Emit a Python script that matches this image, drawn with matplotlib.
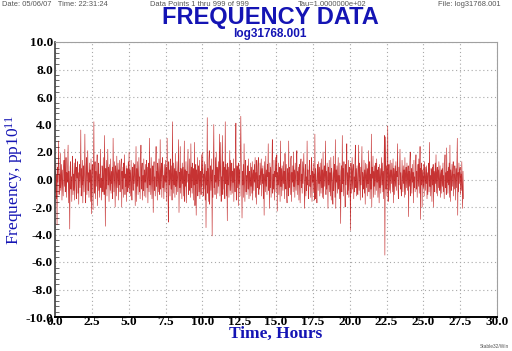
"""Stable32-style frequency data plot for log31768.001."""

import matplotlib

matplotlib.use("Agg")

import matplotlib.pyplot as plt  # noqa: E402
import numpy as np  # noqa: E402
from matplotlib.ticker import MultipleLocator  # noqa: E402

TAU_S = 100.0
X_TICKS = [0.0, 2.5, 5.0, 7.5, 10.0, 12.5, 15.0, 17.5, 20.0, 22.5, 25.0, 27.5, 30.0]
Y_TICKS = [-10.0, -8.0, -6.0, -4.0, -2.0, 0.0, 2.0, 4.0, 6.0, 8.0, 10.0]

# fractional frequency, pp10^11, points 1..999 (estimated from the trace)
FREQ = [
    0.6, -0.9, 1.2, -1.4, 0.3, -3.3, 0.9, -0.2, 1.5, 2.8, -1.1, 0.4, -0.6, 1.9, -0.8, 0.2, 1.1, -1.5, 0.7, -0.3,
    -1.2, 0.8, 1.4, -0.5, 2.2, -0.9, 0.1, 1.6, -1.3, 0.5, -0.2, 1.0, 2.5, -1.7, 0.6, -0.4, -3.6, 0.9, 1.3, -0.7,
    0.2, -1.6, 0.8, 1.7, -1.1, 0.4, -0.8, 1.2, -1.5, 0.6, 1.5, -0.3, -1.4, 0.9, 0.1, 1.3, -1.0, 0.5, -1.8, 0.7,
    1.1, -0.6, 0.3, 3.6, -1.2, 0.8, -0.4, 1.4, -1.7, 0.2, 1.0, -0.9, 0.6, 3.3, -0.5, -1.7, 0.9, 1.6, -1.1, 0.4,
    2.1, -0.8, 0.5, -1.3, 1.2, -0.2, 0.7, -1.6, 1.5, -2.5, 0.3, 1.1, -0.7, -2.2, 0.8, 4.2, -1.0, 0.4, 1.3, -1.4,
    0.6, -0.5, 0.9, 1.8, -1.9, 0.2, 1.2, -0.8, 0.4, -1.3, 0.7, 2.2, -0.6, 0.1, -1.5, 1.0, 0.3, -0.9, 1.6, -0.2,
    -1.1, 3.2, 0.5, -3.4, 0.8, -0.7, 1.4, -1.2, 0.3, 2.2, -0.4, 0.9, -1.6, 1.1, 0.2, -0.8, 1.5, -1.0, 0.6, -0.3,
    0.9, -1.4, 3.0, 0.4, -0.9, 1.3, -0.1, -2.0, 1.0, 0.5, -1.2, 1.7, -0.6, 0.2, 1.2, -1.5, 0.7, -0.4, 1.4, -0.9,
    0.3, 1.1, 1.5, -2.0, 0.6, -0.7, 0.9, -1.3, 1.2, 0.1, 1.8, -1.1, 0.4, -0.5, 1.0, -1.6, 0.8, 0.2, -0.9, 1.3,
    -0.6, 2.0, -1.0, 0.7, 0.3, -1.2, 1.4, -0.4, -1.5, 0.9, 0.2, -0.8, 1.2, -0.3, 0.6, 1.1, -1.9, 0.5, 2.4, -1.6,
    0.8, -0.5, 1.3, -1.1, 0.4, 1.6, -0.9, 0.2, -1.4, 1.0, 2.5, -0.7, 0.6, 1.2, -1.5, 0.3, -0.8, 1.5, -1.2, 0.7,
    -0.2, 1.1, -1.3, 0.5, 1.4, -0.6, 0.9, -1.7, 0.3, 1.2, -0.9, 3.0, -0.4, 0.8, -1.1, 1.6, 0.1, -1.4, 0.6, 1.0,
    -2.4, 0.7, 1.3, -0.8, 0.2, -1.2, 1.0, 2.4, -0.5, 0.6, -1.5, 1.2, 0.4, -0.9, 1.5, -0.3, -1.1, 2.9, -0.7, 0.5,
    1.2, -1.3, 0.8, 1.6, -0.6, 0.3, -1.4, 1.1, 0.2, -0.9, 1.4, -0.2, 0.9, -1.6, 3.0, 0.5, -0.8, -3.1, 1.3, -0.4,
    0.7, -1.2, 1.5, 0.1, -0.7, 1.0, -1.5, 4.2, 0.3, -1.0, 1.2, -0.4, 0.8, -1.3, 1.9, -0.5, 0.6, -1.1, 1.3, 0.2,
    -0.9, 1.1, 2.9, -2.4, 0.5, -0.6, 2.4, -1.0, 0.8, 0.3, -1.4, 1.2, -0.3, 0.9, -1.2, 0.4, 2.8, -1.6, 0.7, -0.5,
    1.3, -1.7, 0.6, -0.2, 1.0, 2.2, -1.1, 0.4, -0.8, 1.5, 0.1, -1.3, 2.6, -0.6, 0.9, -1.0, 1.2, 0.3, -1.5, 0.8,
    -0.4, 2.7, -1.9, 0.5, 1.1, -2.6, 0.7, -0.3, 1.6, -1.2, 0.2, 1.0, -0.9, 1.4, -1.4, 0.6, 0.3, -1.1, 1.8, -0.5,
    0.9, 2.0, -1.2, 0.4, -0.7, 1.3, 0.1, -1.5, 1.1, -3.5, 0.6, -0.4, 4.5, -1.0, 0.8, -1.6, 1.4, 2.1, -1.8, 0.2,
    1.0, -0.8, 0.5, 1.5, -4.1, 0.7, -1.3, 1.2, 4.0, -0.6, 0.3, -1.1, 1.6, -0.2, 2.0, -1.4, 0.9, 0.4, -1.0, 1.3,
    -0.5, 0.8, 3.3, -1.2, 0.6, 2.7, -1.6, 0.2, -1.0, 3.2, -1.1, 0.5, 1.3, -0.7, 0.9, -1.4, 4.2, -0.3, 1.1, -1.2,
    0.7, -3.0, 1.2, -0.4, 0.9, -1.3, 0.3, 2.1, -0.8, 1.4, -1.1, 0.5, 1.2, -1.0, 0.6, -0.2, 1.5, -1.6, 0.8, 0.1,
    -0.9, 1.3, 4.1, -1.5, 0.4, 1.0, -0.6, 0.9, -1.9, 1.2, -0.3, 0.7, -1.2, 1.6, 4.6, 1.4, 0.2, -2.8, 0.6, -0.4,
    1.1, -1.3, 2.6, -0.2, -1.6, 0.8, 1.4, -0.9, 0.3, -1.1, 1.0, 0.4, -0.7, 1.5, -1.4, 0.6, 0.1, -1.2, 1.2, -0.5,
    0.9, -1.0, 1.3, -1.5, 0.4, 0.7, -0.8, 1.1, -0.2, 1.6, -1.3, 0.5, -1.8, 1.4, 0.2, -0.6, 1.0, 1.6, -1.1, 0.3,
    -0.7, 1.2, -0.4, 0.6, 1.5, -1.2, 0.8, -0.3, 1.0, -1.4, 0.4, -2.6, 1.3, 0.1, -0.9, 1.7, -0.5, 0.7, -1.1, 1.1,
    0.2, 2.6, -0.8, 0.5, -2.1, 1.2, -0.6, 0.9, -1.3, 0.3, 1.1, 2.9, -1.0, 0.4, -0.7, 1.4, -1.5, 0.6, 0.2, 1.6,
    -0.9, 0.7, 1.8, -2.3, 0.5, -0.4, 1.2, -1.1, 0.3, 0.9, -1.6, 2.8, -0.5, 0.8, -1.2, 1.0, 0.1, -0.8, 1.3, -0.3,
    0.6, -1.4, 1.9, 0.2, -0.7, 1.1, -1.0, -1.7, 0.8, 0.4, -1.2, 2.8, -0.6, 0.9, 0.3, -1.1, 1.5, 1.7, -1.6, 0.5,
    -0.2, 1.0, -0.9, 2.0, -0.5, 0.7, -1.3, 1.2, 0.1, -0.8, 1.4, 2.1, -1.1, 0.6, -0.4, 0.9, -1.5, 1.1, 0.3, -1.7,
    1.0, 1.5, -0.6, 0.4, -1.0, 1.3, -0.3, 0.8, 1.9, -0.7, -2.1, 0.5, 1.1, -1.2, 0.2, -0.8, 2.8, -0.4, 0.7, -1.4,
    -1.1, 0.9, 1.4, -0.5, 0.3, -1.3, 1.0, 1.6, -1.6, 0.6, -0.2, 1.2, -0.9, 0.4, -1.5, 3.3, -1.4, 0.8, 0.1, -0.6,
    -1.7, 1.1, 0.5, -0.8, 1.3, -0.3, 0.9, -1.2, 1.2, 0.2, -1.0, 1.5, -0.6, 0.7, -1.3, 2.0, -1.4, 0.4, 1.0, -0.5,
    0.3, 2.8, -1.1, 0.6, -0.7, 1.2, 0.1, -2.1, 0.9, -0.4, 1.4, -0.9, 0.5, -1.2, 1.6, -1.5, 0.8, 0.2, -0.6, -1.8,
    1.7, -0.8, 0.4, 1.1, -1.3, 2.9, -2.1, 0.7, -0.2, 1.0, -1.0, 0.5, 1.6, -0.7, 0.3, -1.4, 1.2, -0.5, -3.2, 0.6,
    1.0, -0.9, 3.2, -0.3, 0.8, -1.2, 1.3, 0.2, -0.6, -2.0, 1.1, -0.4, 0.7, 2.6, -1.1, 0.5, -0.8, 1.4, -1.3, 0.3,
    0.9, -0.5, -3.7, 1.2, 0.4, -1.0, 1.6, -0.7, 0.6, 1.1, -1.4, 0.2, -0.9, 1.3, 2.5, -0.6, 0.8, -1.2, 1.0, -0.3,
    -1.1, 0.6, 2.5, -0.8, 1.2, 0.3, -1.5, 0.9, -0.4, 1.0, 2.4, -1.3, 0.5, 0.1, -0.7, 1.4, -1.0, 0.7, -1.8, 1.2,
    0.2, -0.6, 1.1, -1.2, 0.8, -0.3, 2.1, -0.9, 0.5, 1.3, -1.4, 0.4, -0.7, 3.3, -2.0, 0.9, 0.1, 1.7, -1.3, 0.6,
    -0.5, 1.0, -1.1, 0.3, 1.2, -0.8, 1.5, -0.2, 0.7, -1.3, 0.9, 0.4, -1.7, 1.1, -0.6, 0.8, -1.0, 0.5, 1.6, -0.4,
    1.2, -0.9, 0.6, -1.4, 1.3, 3.2, -5.5, 0.9, 3.1, -0.7, 1.0, -1.2, 0.4, 3.9, -1.6, 0.5, 1.1, -0.8, 0.2, 1.4,
    -1.0, 0.7, -0.3, 1.2, 0.1, -0.9, 1.5, -1.7, 0.8, 0.3, -1.1, 1.0, -0.5, 1.3, -0.8, 0.6, 0.2, 2.6, -0.6, -1.4,
    0.9, -0.4, 1.1, 2.2, -0.7, 0.5, -1.0, -1.2, 1.4, 0.2, -0.9, 1.0, -0.3, 0.7, -1.3, 1.6, -1.1, 0.4, 0.9, -0.6,
    1.2, -0.8, 0.3, 1.0, -2.7, 0.6, -0.5, 1.3, 2.0, -1.2, 0.4, 0.8, -1.0, 1.1, -0.2, 0.5, -1.7, 1.4, -0.6, 0.2,
    -0.9, 1.0, 1.8, -0.7, 0.6, -1.3, 0.3, 1.1, -0.5, 1.5, -1.0, 0.4, 2.4, -2.9, 0.8, -0.4, 1.2, -2.0, 0.7, 0.1,
    -0.6, 1.1, -1.2, 1.3, 0.2, -0.8, 0.9, -0.3, 1.0, -1.4, 0.5, -1.1, 0.7, 1.2, -0.9, 2.7, -0.5, 0.3, -1.2, 0.8,
    0.4, -1.6, 0.9, -0.4, 1.1, -2.0, 0.6, 0.2, -0.9, 1.2, -0.3, 1.8, -1.0, 0.5, 0.9, -1.2, 0.7, -0.6, 1.3, -0.1,
    -0.8, 1.0, -1.3, 0.4, 0.7, -1.0, 0.8, -0.5, 1.2, -0.9, 0.3, -1.4, 1.1, 1.8, -0.6, 0.5, -1.1, 2.3, -0.2, 0.6,
    -1.0, 0.9, -0.4, 1.2, -1.3, 2.5, -1.6, 0.7, 0.2, -0.8, 1.1, -0.5, 0.6, 1.3, -1.2, 0.4, -0.7, 1.0, 0.3, -1.5,
    0.8, -0.6, 1.1, 3.0, -2.6, 0.5, -0.9, 1.2, -0.3, 0.7, 0.9, -1.1, 0.4, -0.8, 1.3, -0.2, -2.1, 0.6, -1.4,
]

BLUE = "#1414b4"
SERIF = ["Liberation Serif", "DejaVu Serif"]
SANS = ["Liberation Sans", "DejaVu Sans"]

plt.rcParams["mathtext.default"] = "regular"

freq = np.asarray(FREQ, dtype=float)
hours = np.arange(len(freq)) * TAU_S / 3600.0

fig = plt.figure(figsize=(5.12, 3.51), dpi=100, facecolor="white")
ax = fig.add_axes([55 / 512, 1 - 317 / 351, 442 / 512, 275 / 351])

ax.plot(hours, freq, color="#b80000", linewidth=0.45, alpha=0.8, antialiased=True)

ax.set_xlim(0, 30)
ax.set_ylim(-10, 10)
ax.set_xticks(X_TICKS)
ax.set_yticks(Y_TICKS)
ax.set_xticklabels([f"{v:.1f}" for v in X_TICKS], family=SERIF, fontsize=9.5, fontweight="bold")
ax.set_yticklabels([f"{v:.1f}" for v in Y_TICKS], family=SERIF, fontsize=9.5, fontweight="bold")
ax.yaxis.set_minor_locator(MultipleLocator(0.4))
ax.tick_params(axis="both", which="major", length=0)
ax.tick_params(axis="x", which="major", pad=-1)
ax.tick_params(axis="y", which="major", pad=1.5)
ax.tick_params(axis="y", which="minor", direction="in", length=3, width=0.6, color="#505050")
ax.grid(True, which="major", color="#a8a8a8", linestyle=(0, (1, 2.5)), linewidth=0.8)

for side in ("top", "right"):
    ax.spines[side].set_color("#a0a0a0")
    ax.spines[side].set_linewidth(0.8)
ax.spines["left"].set_color("#404040")
ax.spines["left"].set_linewidth(1.2)
ax.spines["bottom"].set_color("black")
ax.spines["bottom"].set_linewidth(1.4)

ax.set_xlabel("Time, Hours", family=SERIF, fontsize=12.5, fontweight="bold", color=BLUE, labelpad=-1)
ax.set_ylabel("Frequency, pp10$^{11}$", family=SERIF, fontsize=12.5, color=BLUE, labelpad=0)

fig.text(270 / 512, 1 - 24 / 351, "FREQUENCY DATA", family=SANS, fontsize=17, fontweight="bold",
         color=BLUE, ha="center", va="baseline")
fig.text(270 / 512, 1 - 37 / 351, "log31768.001", family=SANS, fontsize=8.5, fontweight="bold",
         color=BLUE, ha="center", va="baseline")

header = dict(family=SANS, fontsize=5.4, color="#555555", va="center")
fig.text(2 / 512, 1 - 4 / 351, "Date: 05/06/07   Time: 22:31:24", ha="left", **header)
fig.text(150 / 512, 1 - 4 / 351, "Data Points 1 thru 999 of 999", ha="left", **header)
fig.text(298 / 512, 1 - 4 / 351, "Tau=1.0000000e+02", ha="left", **header)
fig.text(501 / 512, 1 - 4 / 351, "File: log31768.001", ha="right", **header)
fig.text(509 / 512, 1 - 347 / 351, "Stable32/Win", family=SANS, fontsize=3.5, color="#555555",
         ha="right", va="center")

fig.savefig("out.png", dpi=100, facecolor="white")
